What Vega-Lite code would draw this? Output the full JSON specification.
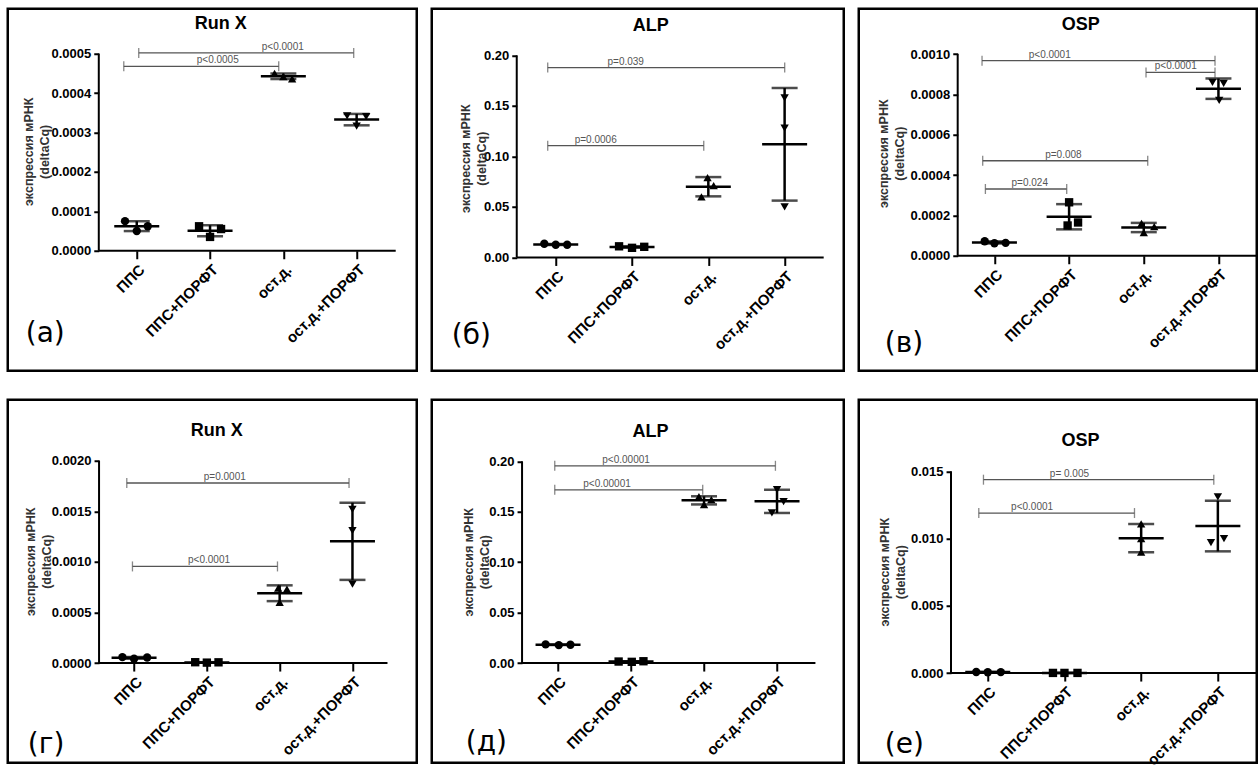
{
  "$schema": "https://vega.github.io/schema/vega-lite/v6.json",
  "usermeta": {"embedOptions": {"actions": false}},
  "background": "white",
  "padding": {"left": 5.75, "top": 6.75, "right": 0, "bottom": 0},
  "datasets": {
    "pa": [{"g":1,"px":0.84,"v":0.000075},{"g":1,"px":1.0,"v":0.000050},{"g":1,"px":1.15,"v":0.000062},
           {"g":2,"px":1.85,"v":0.000062},{"g":2,"px":2.0,"v":0.000035},{"g":2,"px":2.15,"v":0.000055},
           {"g":3,"px":2.88,"v":0.000450},{"g":3,"px":3.0,"v":0.000442},{"g":3,"px":3.12,"v":0.000436},
           {"g":4,"px":3.87,"v":0.000342},{"g":4,"px":4.13,"v":0.000340},{"g":4,"px":4.0,"v":0.000316}],
    "pb": [{"g":1,"px":0.85,"v":0.0135},{"g":1,"px":1.0,"v":0.0125},{"g":1,"px":1.15,"v":0.0125},
           {"g":2,"px":1.83,"v":0.011},{"g":2,"px":2.0,"v":0.0095},{"g":2,"px":2.16,"v":0.0105},
           {"g":3,"px":2.99,"v":0.079},{"g":3,"px":3.07,"v":0.071},{"g":3,"px":2.91,"v":0.060},
           {"g":4,"px":4.0,"v":0.158},{"g":4,"px":4.0,"v":0.128},{"g":4,"px":4.0,"v":0.050}],
    "pc": [{"g":1,"px":0.87,"v":0.000072},{"g":1,"px":1.0,"v":0.000062},{"g":1,"px":1.15,"v":0.000064},
           {"g":2,"px":2.0,"v":0.000265},{"g":2,"px":2.12,"v":0.000165},{"g":2,"px":1.98,"v":0.000150},
           {"g":3,"px":2.97,"v":0.000160},{"g":3,"px":3.14,"v":0.000145},{"g":3,"px":3.0,"v":0.000115},
           {"g":4,"px":3.92,"v":0.000860},{"g":4,"px":4.07,"v":0.000855},{"g":4,"px":4.01,"v":0.000770}],
    "pd": [{"g":1,"px":0.84,"v":0.000058},{"g":1,"px":1.0,"v":0.000042},{"g":1,"px":1.18,"v":0.000055},
           {"g":2,"px":1.84,"v":0.000008},{"g":2,"px":2.0,"v":0.000004},{"g":2,"px":2.16,"v":0.000007},
           {"g":3,"px":2.98,"v":0.00074},{"g":3,"px":3.1,"v":0.00073},{"g":3,"px":3.0,"v":0.0006},
           {"g":4,"px":4.0,"v":0.00152},{"g":4,"px":4.0,"v":0.00131},{"g":4,"px":4.0,"v":0.00078}],
    "pe": [{"g":1,"px":0.83,"v":0.0185},{"g":1,"px":1.01,"v":0.0178},{"g":1,"px":1.17,"v":0.0182},
           {"g":2,"px":1.83,"v":0.0015},{"g":2,"px":2.01,"v":0.0012},{"g":2,"px":2.17,"v":0.0018},
           {"g":3,"px":2.93,"v":0.165},{"g":3,"px":3.1,"v":0.162},{"g":3,"px":3.0,"v":0.157},
           {"g":4,"px":4.0,"v":0.172},{"g":4,"px":4.09,"v":0.160},{"g":4,"px":3.93,"v":0.149}],
    "pf": [{"g":1,"px":0.85,"v":0.00008},{"g":1,"px":1.0,"v":0.00006},{"g":1,"px":1.17,"v":0.00007},
           {"g":2,"px":1.85,"v":0.00001},{"g":2,"px":2.0,"v":0.00001},{"g":2,"px":2.17,"v":0.00001},
           {"g":3,"px":3.0,"v":0.0111},{"g":3,"px":3.0,"v":0.0100},{"g":3,"px":3.0,"v":0.0090},
           {"g":4,"px":4.0,"v":0.0131},{"g":4,"px":3.91,"v":0.0097},{"g":4,"px":4.08,"v":0.0100}],
    "ba": [{"x1":0.823,"x2":2.937,"y":0.000468,"lx":2.105,"lab":"p<0.0005"},{"x1":1.027,"x2":3.960,"y":0.000502,"lx":2.992,"lab":"p<0.0001"}],
    "bb": [{"x1":0.895,"x2":4.001,"y":0.188,"lx":1.917,"lab":"p=0.039"},{"x1":0.895,"x2":2.940,"y":0.1106,"lx":1.524,"lab":"p=0.0006"}],
    "bc": [{"x1":0.834,"x2":3.954,"y":0.000967,"lx":1.741,"lab":"p<0.0001"},{"x1":3.030,"x2":3.954,"y":0.000909,"lx":3.428,"lab":"p<0.0001"},{"x1":0.843,"x2":3.053,"y":0.000471,"lx":1.924,"lab":"p=0.008"},{"x1":0.879,"x2":1.968,"y":0.000331,"lx":1.473,"lab":"p=0.024"}],
    "bd": [{"x1":0.900,"x2":3.953,"y":0.00178,"lx":2.246,"lab":"p=0.0001"},{"x1":0.978,"x2":2.970,"y":0.000955,"lx":2.030,"lab":"p<0.0001"}],
    "be": [{"x1":0.955,"x2":3.978,"y":0.1956,"lx":1.932,"lab":"p<0.00001"},{"x1":0.955,"x2":2.982,"y":0.1718,"lx":1.671,"lab":"p<0.00001"}],
    "bf": [{"x1":0.944,"x2":3.947,"y":0.01438,"lx":2.065,"lab":"p= 0.005"},{"x1":0.883,"x2":2.913,"y":0.0119,"lx":1.578,"lab":"p<0.0001"}]
  },
  "vconcat": [
    {"hconcat": [
      {"width": 409, "height": 362, "layer": [
        {"data": {"values": [{"x":0.482,"x2":0.482,"y":0,"y2":0.0005},{"x":0.482,"x2":4.533,"y":0,"y2":0}]},
         "mark": {"type":"rule","color":"black","strokeWidth":2},
         "encoding": {
           "x": {"field":"x","type":"quantitative","scale":{"domain":[-0.76,4.82],"nice":false,"zero":false},"axis":{"offset":-120,"values":[1,2,3,4],"labelExpr":"['','ППС','ППС+ПОРФТ','ост.д.','ост.д.+ПОРФТ'][datum.value]","title":null}},
           "x2": {"field":"x2"},
           "y": {"field":"y","type":"quantitative","scale":{"domain":[-0.0003046,0.000614],"nice":false,"zero":false},"axis":{"offset":-91,"values":[0,0.0001,0.0002,0.0003,0.0004,0.0005],"format":".4f","title":null}},
           "y2": {"field":"y2"}}},
        {"data":{"name":"ba"},"mark":{"type":"rule","color":"#555","strokeWidth":1.3},"encoding":{"x":{"field":"x1","type":"quantitative"},"x2":{"field":"x2"},"y":{"field":"y","type":"quantitative"}}},
        {"data":{"name":"ba"},"mark":{"type":"tick","orient":"vertical","color":"#555","thickness":1.3,"size":10},"encoding":{"x":{"field":"x1","type":"quantitative"},"y":{"field":"y","type":"quantitative"}}},
        {"data":{"name":"ba"},"mark":{"type":"tick","orient":"vertical","color":"#555","thickness":1.3,"size":10},"encoding":{"x":{"field":"x2","type":"quantitative"},"y":{"field":"y","type":"quantitative"}}},
        {"data":{"name":"ba"},"mark":{"type":"text","fontSize":10,"color":"#555","baseline":"alphabetic","dy":-3},"encoding":{"x":{"field":"lx","type":"quantitative"},"y":{"field":"y","type":"quantitative"},"text":{"field":"lab"}}},
        {"data":{"name":"pa"},"mark":{"type":"errorbar","extent":"stdev","ticks":{"color":"black"},"rule":{"color":"black"},"size":26,"thickness":2.5,"color":"black"},"encoding":{"x":{"field":"g","type":"quantitative","title":null},"y":{"field":"v","type":"quantitative","title":null}}},
        {"data":{"name":"pa"},"mark":{"type":"tick","orient":"horizontal","size":45,"thickness":2.5,"color":"black"},"encoding":{"x":{"field":"g","type":"quantitative"},"y":{"aggregate":"mean","field":"v","type":"quantitative"}}},
        {"data":{"name":"pa"},"mark":{"type":"point","filled":true,"color":"black","size":70,"opacity":1},"encoding":{"x":{"field":"px","type":"quantitative"},"y":{"field":"v","type":"quantitative"},"shape":{"field":"g","type":"nominal","scale":{"domain":[1,2,3,4],"range":["circle","square","triangle-up","triangle-down"]},"legend":null}}},
        {"data":{"values":[{"x":2.146,"y":0.000576,"t":"Run X"}]},"mark":{"type":"text","fontSize":18,"fontWeight":"bold","color":"black","baseline":"middle"},"encoding":{"x":{"field":"x","type":"quantitative"},"y":{"field":"y","type":"quantitative"},"text":{"field":"t"}}},
        {"data":{"values":[{"x":-0.473,"y":0.000251,"t":"экспрессия мРНК\n(deltaCq)"}]},"mark":{"type":"text","angle":270,"lineBreak":"\n","lineHeight":16,"fontSize":12.5,"fontWeight":"bold","color":"#333","align":"center","baseline":"middle"},"encoding":{"x":{"field":"x","type":"quantitative"},"y":{"field":"y","type":"quantitative"},"text":{"field":"t"}}},
        {"data":{"values":[{"x":-0.514,"y":-0.000211,"t":"(а)"}]},"mark":{"type":"text","font":"DejaVu Sans","fontSize":28,"align":"left","baseline":"middle","color":"black"},"encoding":{"x":{"field":"x","type":"quantitative"},"y":{"field":"y","type":"quantitative"},"text":{"field":"t"}}}
      ]},
      {"width": 412, "height": 362, "layer": [
        {"data": {"values": [{"x":0.489,"x2":0.489,"y":0,"y2":0.2},{"x":0.489,"x2":4.512,"y":0,"y2":0}]},
         "mark": {"type":"rule","color":"black","strokeWidth":2},
         "encoding": {
           "x": {"field":"x","type":"quantitative","scale":{"domain":[-0.625,4.775],"nice":false,"zero":false},"axis":{"offset":-113.3,"values":[1,2,3,4],"labelExpr":"['','ППС','ППС+ПОРФТ','ост.д.','ост.д.+ПОРФТ'][datum.value]","title":null}},
           "x2": {"field":"x2"},
           "y": {"field":"y","type":"quantitative","scale":{"domain":[-0.1122,0.2462],"nice":false,"zero":false},"axis":{"offset":-85,"values":[0,0.05,0.1,0.15,0.2],"format":".2f","title":null}},
           "y2": {"field":"y2"}}},
        {"data":{"name":"bb"},"mark":{"type":"rule","color":"#555","strokeWidth":1.3},"encoding":{"x":{"field":"x1","type":"quantitative"},"x2":{"field":"x2"},"y":{"field":"y","type":"quantitative"}}},
        {"data":{"name":"bb"},"mark":{"type":"tick","orient":"vertical","color":"#555","thickness":1.3,"size":10},"encoding":{"x":{"field":"x1","type":"quantitative"},"y":{"field":"y","type":"quantitative"}}},
        {"data":{"name":"bb"},"mark":{"type":"tick","orient":"vertical","color":"#555","thickness":1.3,"size":10},"encoding":{"x":{"field":"x2","type":"quantitative"},"y":{"field":"y","type":"quantitative"}}},
        {"data":{"name":"bb"},"mark":{"type":"text","fontSize":10,"color":"#555","baseline":"alphabetic","dy":-3},"encoding":{"x":{"field":"lx","type":"quantitative"},"y":{"field":"y","type":"quantitative"},"text":{"field":"lab"}}},
        {"data":{"name":"pb"},"mark":{"type":"errorbar","extent":"stdev","ticks":{"color":"black"},"rule":{"color":"black"},"size":26,"thickness":2.5,"color":"black"},"encoding":{"x":{"field":"g","type":"quantitative","title":null},"y":{"field":"v","type":"quantitative","title":null}}},
        {"data":{"name":"pb"},"mark":{"type":"tick","orient":"horizontal","size":45,"thickness":2.5,"color":"black"},"encoding":{"x":{"field":"g","type":"quantitative"},"y":{"aggregate":"mean","field":"v","type":"quantitative"}}},
        {"data":{"name":"pb"},"mark":{"type":"point","filled":true,"color":"black","size":70,"opacity":1},"encoding":{"x":{"field":"px","type":"quantitative"},"y":{"field":"v","type":"quantitative"},"shape":{"field":"g","type":"nominal","scale":{"domain":[1,2,3,4],"range":["circle","square","triangle-up","triangle-down"]},"legend":null}}},
        {"data":{"values":[{"x":2.245,"y":0.2294,"t":"ALP"}]},"mark":{"type":"text","fontSize":18,"fontWeight":"bold","color":"black","baseline":"middle"},"encoding":{"x":{"field":"x","type":"quantitative"},"y":{"field":"y","type":"quantitative"},"text":{"field":"t"}}},
        {"data":{"values":[{"x":-0.173,"y":0.0977,"t":"экспрессия мРНК\n(deltaCq)"}]},"mark":{"type":"text","angle":270,"lineBreak":"\n","lineHeight":16,"fontSize":12.5,"fontWeight":"bold","color":"#333","align":"center","baseline":"middle"},"encoding":{"x":{"field":"x","type":"quantitative"},"y":{"field":"y","type":"quantitative"},"text":{"field":"t"}}},
        {"data":{"values":[{"x":-0.363,"y":-0.0775,"t":"(б)"}]},"mark":{"type":"text","font":"DejaVu Sans","fontSize":28,"align":"left","baseline":"middle","color":"black"},"encoding":{"x":{"field":"x","type":"quantitative"},"y":{"field":"y","type":"quantitative"},"text":{"field":"t"}}}
      ]},
      {"width": 398, "height": 362, "layer": [
        {"data": {"values": [{"x":0.508,"x2":0.508,"y":0,"y2":0.001},{"x":0.508,"x2":4.513,"y":0,"y2":0}]},
         "mark": {"type":"rule","color":"black","strokeWidth":2},
         "encoding": {
           "x": {"field":"x","type":"quantitative","scale":{"domain":[-0.817,4.513],"nice":false,"zero":false},"axis":{"offset":-115,"values":[1,2,3,4],"labelExpr":"['','ППС','ППС+ПОРФТ','ост.д.','ост.д.+ПОРФТ'][datum.value]","title":null}},
           "x2": {"field":"x2"},
           "y": {"field":"y","type":"quantitative","scale":{"domain":[-0.00057015,0.0012246],"nice":false,"zero":false},"axis":{"offset":-99,"values":[0,0.0002,0.0004,0.0006,0.0008,0.001],"format":".4f","title":null}},
           "y2": {"field":"y2"}}},
        {"data":{"name":"bc"},"mark":{"type":"rule","color":"#555","strokeWidth":1.3},"encoding":{"x":{"field":"x1","type":"quantitative"},"x2":{"field":"x2"},"y":{"field":"y","type":"quantitative"}}},
        {"data":{"name":"bc"},"mark":{"type":"tick","orient":"vertical","color":"#555","thickness":1.3,"size":10},"encoding":{"x":{"field":"x1","type":"quantitative"},"y":{"field":"y","type":"quantitative"}}},
        {"data":{"name":"bc"},"mark":{"type":"tick","orient":"vertical","color":"#555","thickness":1.3,"size":10},"encoding":{"x":{"field":"x2","type":"quantitative"},"y":{"field":"y","type":"quantitative"}}},
        {"data":{"name":"bc"},"mark":{"type":"text","fontSize":10,"color":"#555","baseline":"alphabetic","dy":-3},"encoding":{"x":{"field":"lx","type":"quantitative"},"y":{"field":"y","type":"quantitative"},"text":{"field":"lab"}}},
        {"data":{"name":"pc"},"mark":{"type":"errorbar","extent":"stdev","ticks":{"color":"black"},"rule":{"color":"black"},"size":26,"thickness":2.5,"color":"black"},"encoding":{"x":{"field":"g","type":"quantitative","title":null},"y":{"field":"v","type":"quantitative","title":null}}},
        {"data":{"name":"pc"},"mark":{"type":"tick","orient":"horizontal","size":45,"thickness":2.5,"color":"black"},"encoding":{"x":{"field":"g","type":"quantitative"},"y":{"aggregate":"mean","field":"v","type":"quantitative"}}},
        {"data":{"name":"pc"},"mark":{"type":"point","filled":true,"color":"black","size":70,"opacity":1},"encoding":{"x":{"field":"px","type":"quantitative"},"y":{"field":"v","type":"quantitative"},"shape":{"field":"g","type":"nominal","scale":{"domain":[1,2,3,4],"range":["circle","square","triangle-up","triangle-down"]},"legend":null}}},
        {"data":{"values":[{"x":2.156,"y":0.001145,"t":"OSP"}]},"mark":{"type":"text","fontSize":18,"fontWeight":"bold","color":"black","baseline":"middle"},"encoding":{"x":{"field":"x","type":"quantitative"},"y":{"field":"y","type":"quantitative"},"text":{"field":"t"}}},
        {"data":{"values":[{"x":-0.476,"y":0.000506,"t":"экспрессия мРНК\n(deltaCq)"}]},"mark":{"type":"text","angle":270,"lineBreak":"\n","lineHeight":16,"fontSize":12.5,"fontWeight":"bold","color":"#333","align":"center","baseline":"middle"},"encoding":{"x":{"field":"x","type":"quantitative"},"y":{"field":"y","type":"quantitative"},"text":{"field":"t"}}},
        {"data":{"values":[{"x":-0.469,"y":-0.000436,"t":"(в)"}]},"mark":{"type":"text","font":"DejaVu Sans","fontSize":28,"align":"left","baseline":"middle","color":"black"},"encoding":{"x":{"field":"x","type":"quantitative"},"y":{"field":"y","type":"quantitative"},"text":{"field":"t"}}}
      ]}
    ], "spacing": 11},
    {"hconcat": [
      {"width": 409, "height": 363, "layer": [
        {"data": {"values": [{"x":0.519,"x2":0.519,"y":0,"y2":0.002},{"x":0.519,"x2":4.481,"y":0,"y2":0}]},
         "mark": {"type":"rule","color":"black","strokeWidth":2},
         "encoding": {
           "x": {"field":"x","type":"quantitative","scale":{"domain":[-0.735,4.883],"nice":false,"zero":false},"axis":{"offset":-99.7,"values":[1,2,3,4],"labelExpr":"['','ППС','ППС+ПОРФТ','ост.д.','ост.д.+ПОРФТ'][datum.value]","title":null}},
           "x2": {"field":"x2"},
           "y": {"field":"y","type":"quantitative","scale":{"domain":[-0.000986,0.002603],"nice":false,"zero":false},"axis":{"offset":-91.3,"values":[0,0.0005,0.001,0.0015,0.002],"format":".4f","title":null}},
           "y2": {"field":"y2"}}},
        {"data":{"name":"bd"},"mark":{"type":"rule","color":"#555","strokeWidth":1.3},"encoding":{"x":{"field":"x1","type":"quantitative"},"x2":{"field":"x2"},"y":{"field":"y","type":"quantitative"}}},
        {"data":{"name":"bd"},"mark":{"type":"tick","orient":"vertical","color":"#555","thickness":1.3,"size":10},"encoding":{"x":{"field":"x1","type":"quantitative"},"y":{"field":"y","type":"quantitative"}}},
        {"data":{"name":"bd"},"mark":{"type":"tick","orient":"vertical","color":"#555","thickness":1.3,"size":10},"encoding":{"x":{"field":"x2","type":"quantitative"},"y":{"field":"y","type":"quantitative"}}},
        {"data":{"name":"bd"},"mark":{"type":"text","fontSize":10,"color":"#555","baseline":"alphabetic","dy":-3},"encoding":{"x":{"field":"lx","type":"quantitative"},"y":{"field":"y","type":"quantitative"},"text":{"field":"lab"}}},
        {"data":{"name":"pd"},"mark":{"type":"errorbar","extent":"stdev","ticks":{"color":"black"},"rule":{"color":"black"},"size":26,"thickness":2.5,"color":"black"},"encoding":{"x":{"field":"g","type":"quantitative","title":null},"y":{"field":"v","type":"quantitative","title":null}}},
        {"data":{"name":"pd"},"mark":{"type":"tick","orient":"horizontal","size":45,"thickness":2.5,"color":"black"},"encoding":{"x":{"field":"g","type":"quantitative"},"y":{"aggregate":"mean","field":"v","type":"quantitative"}}},
        {"data":{"name":"pd"},"mark":{"type":"point","filled":true,"color":"black","size":70,"opacity":1},"encoding":{"x":{"field":"px","type":"quantitative"},"y":{"field":"v","type":"quantitative"},"shape":{"field":"g","type":"nominal","scale":{"domain":[1,2,3,4],"range":["circle","square","triangle-up","triangle-down"]},"legend":null}}},
        {"data":{"values":[{"x":2.136,"y":0.00229,"t":"Run X"}]},"mark":{"type":"text","fontSize":18,"fontWeight":"bold","color":"black","baseline":"middle"},"encoding":{"x":{"field":"x","type":"quantitative"},"y":{"field":"y","type":"quantitative"},"text":{"field":"t"}}},
        {"data":{"values":[{"x":-0.419,"y":0.001001,"t":"экспрессия мРНК\n(deltaCq)"}]},"mark":{"type":"text","angle":270,"lineBreak":"\n","lineHeight":16,"fontSize":12.5,"fontWeight":"bold","color":"#333","align":"center","baseline":"middle"},"encoding":{"x":{"field":"x","type":"quantitative"},"y":{"field":"y","type":"quantitative"},"text":{"field":"t"}}},
        {"data":{"values":[{"x":-0.46,"y":-0.000808,"t":"(г)"}]},"mark":{"type":"text","font":"DejaVu Sans","fontSize":28,"align":"left","baseline":"middle","color":"black"},"encoding":{"x":{"field":"x","type":"quantitative"},"y":{"field":"y","type":"quantitative"},"text":{"field":"t"}}}
      ]},
      {"width": 412, "height": 363, "layer": [
        {"data": {"values": [{"x":0.507,"x2":0.507,"y":0,"y2":0.2},{"x":0.507,"x2":4.526,"y":0,"y2":0}]},
         "mark": {"type":"rule","color":"black","strokeWidth":2},
         "encoding": {
           "x": {"field":"x","type":"quantitative","scale":{"domain":[-0.73,4.914],"nice":false,"zero":false},"axis":{"offset":-99.7,"values":[1,2,3,4],"labelExpr":"['','ППС','ППС+ПОРФТ','ост.д.','ост.д.+ПОРФТ'][datum.value]","title":null}},
           "x2": {"field":"x2"},
           "y": {"field":"y","type":"quantitative","scale":{"domain":[-0.09886,0.2611],"nice":false,"zero":false},"axis":{"offset":-90.3,"values":[0,0.05,0.1,0.15,0.2],"format":".2f","title":null}},
           "y2": {"field":"y2"}}},
        {"data":{"name":"be"},"mark":{"type":"rule","color":"#555","strokeWidth":1.3},"encoding":{"x":{"field":"x1","type":"quantitative"},"x2":{"field":"x2"},"y":{"field":"y","type":"quantitative"}}},
        {"data":{"name":"be"},"mark":{"type":"tick","orient":"vertical","color":"#555","thickness":1.3,"size":10},"encoding":{"x":{"field":"x1","type":"quantitative"},"y":{"field":"y","type":"quantitative"}}},
        {"data":{"name":"be"},"mark":{"type":"tick","orient":"vertical","color":"#555","thickness":1.3,"size":10},"encoding":{"x":{"field":"x2","type":"quantitative"},"y":{"field":"y","type":"quantitative"}}},
        {"data":{"name":"be"},"mark":{"type":"text","fontSize":10,"color":"#555","baseline":"alphabetic","dy":-3},"encoding":{"x":{"field":"lx","type":"quantitative"},"y":{"field":"y","type":"quantitative"},"text":{"field":"lab"}}},
        {"data":{"name":"pe"},"mark":{"type":"errorbar","extent":"stdev","ticks":{"color":"black"},"rule":{"color":"black"},"size":26,"thickness":2.5,"color":"black"},"encoding":{"x":{"field":"g","type":"quantitative","title":null},"y":{"field":"v","type":"quantitative","title":null}}},
        {"data":{"name":"pe"},"mark":{"type":"tick","orient":"horizontal","size":45,"thickness":2.5,"color":"black"},"encoding":{"x":{"field":"g","type":"quantitative"},"y":{"aggregate":"mean","field":"v","type":"quantitative"}}},
        {"data":{"name":"pe"},"mark":{"type":"point","filled":true,"color":"black","size":70,"opacity":1},"encoding":{"x":{"field":"px","type":"quantitative"},"y":{"field":"v","type":"quantitative"},"shape":{"field":"g","type":"nominal","scale":{"domain":[1,2,3,4],"range":["circle","square","triangle-up","triangle-down"]},"legend":null}}},
        {"data":{"values":[{"x":2.266,"y":0.2296,"t":"ALP"}]},"mark":{"type":"text","fontSize":18,"fontWeight":"bold","color":"black","baseline":"middle"},"encoding":{"x":{"field":"x","type":"quantitative"},"y":{"field":"y","type":"quantitative"},"text":{"field":"t"}}},
        {"data":{"values":[{"x":-0.223,"y":0.09995,"t":"экспрессия мРНК\n(deltaCq)"}]},"mark":{"type":"text","angle":270,"lineBreak":"\n","lineHeight":16,"fontSize":12.5,"fontWeight":"bold","color":"#333","align":"center","baseline":"middle"},"encoding":{"x":{"field":"x","type":"quantitative"},"y":{"field":"y","type":"quantitative"},"text":{"field":"t"}}},
        {"data":{"values":[{"x":-0.264,"y":-0.0793,"t":"(д)"}]},"mark":{"type":"text","font":"DejaVu Sans","fontSize":28,"align":"left","baseline":"middle","color":"black"},"encoding":{"x":{"field":"x","type":"quantitative"},"y":{"field":"y","type":"quantitative"},"text":{"field":"t"}}}
      ]},
      {"width": 398, "height": 363, "layer": [
        {"data": {"values": [{"x":0.521,"x2":0.521,"y":0,"y2":0.015},{"x":0.521,"x2":4.507,"y":0,"y2":0}]},
         "mark": {"type":"rule","color":"black","strokeWidth":2},
         "encoding": {
           "x": {"field":"x","type":"quantitative","scale":{"domain":[-0.682,4.507],"nice":false,"zero":false},"axis":{"offset":-89.7,"values":[1,2,3,4],"labelExpr":"['','ППС','ППС+ПОРФТ','ост.д.','ост.д.+ПОРФТ'][datum.value]","title":null}},
           "x2": {"field":"x2"},
           "y": {"field":"y","type":"quantitative","scale":{"domain":[-0.006671,0.020325],"nice":false,"zero":false},"axis":{"offset":-92.3,"values":[0,0.005,0.01,0.015],"format":".3f","title":null}},
           "y2": {"field":"y2"}}},
        {"data":{"name":"bf"},"mark":{"type":"rule","color":"#555","strokeWidth":1.3},"encoding":{"x":{"field":"x1","type":"quantitative"},"x2":{"field":"x2"},"y":{"field":"y","type":"quantitative"}}},
        {"data":{"name":"bf"},"mark":{"type":"tick","orient":"vertical","color":"#555","thickness":1.3,"size":10},"encoding":{"x":{"field":"x1","type":"quantitative"},"y":{"field":"y","type":"quantitative"}}},
        {"data":{"name":"bf"},"mark":{"type":"tick","orient":"vertical","color":"#555","thickness":1.3,"size":10},"encoding":{"x":{"field":"x2","type":"quantitative"},"y":{"field":"y","type":"quantitative"}}},
        {"data":{"name":"bf"},"mark":{"type":"text","fontSize":10,"color":"#555","baseline":"alphabetic","dy":-3},"encoding":{"x":{"field":"lx","type":"quantitative"},"y":{"field":"y","type":"quantitative"},"text":{"field":"lab"}}},
        {"data":{"name":"pf"},"mark":{"type":"errorbar","extent":"stdev","ticks":{"color":"black"},"rule":{"color":"black"},"size":26,"thickness":2.5,"color":"black"},"encoding":{"x":{"field":"g","type":"quantitative","title":null},"y":{"field":"v","type":"quantitative","title":null}}},
        {"data":{"name":"pf"},"mark":{"type":"tick","orient":"horizontal","size":45,"thickness":2.5,"color":"black"},"encoding":{"x":{"field":"g","type":"quantitative"},"y":{"aggregate":"mean","field":"v","type":"quantitative"}}},
        {"data":{"name":"pf"},"mark":{"type":"point","filled":true,"color":"black","size":70,"opacity":1},"encoding":{"x":{"field":"px","type":"quantitative"},"y":{"field":"v","type":"quantitative"},"shape":{"field":"g","type":"nominal","scale":{"domain":[1,2,3,4],"range":["circle","square","triangle-up","triangle-down"]},"legend":null}}},
        {"data":{"values":[{"x":2.209,"y":0.017275,"t":"OSP"}]},"mark":{"type":"text","fontSize":18,"fontWeight":"bold","color":"black","baseline":"middle"},"encoding":{"x":{"field":"x","type":"quantitative"},"y":{"field":"y","type":"quantitative"},"text":{"field":"t"}}},
        {"data":{"values":[{"x":-0.336,"y":0.0075,"t":"экспрессия мРНК\n(deltaCq)"}]},"mark":{"type":"text","angle":270,"lineBreak":"\n","lineHeight":16,"fontSize":12.5,"fontWeight":"bold","color":"#333","align":"center","baseline":"middle"},"encoding":{"x":{"field":"x","type":"quantitative"},"y":{"field":"y","type":"quantitative"},"text":{"field":"t"}}},
        {"data":{"values":[{"x":-0.343,"y":-0.005332,"t":"(е)"}]},"mark":{"type":"text","font":"DejaVu Sans","fontSize":28,"align":"left","baseline":"middle","color":"black"},"encoding":{"x":{"field":"x","type":"quantitative"},"y":{"field":"y","type":"quantitative"},"text":{"field":"t"}}}
      ]}
    ], "spacing": 11}
  ],
  "spacing": 25,
  "config": {
    "font": "Liberation Sans",
    "view": {"stroke": "black", "strokeWidth": 2.5},
    "mark": {"color": "black"},
    "axis": {"grid": false, "domain": false, "tickColor": "black", "tickWidth": 2, "labelColor": "black", "labelFontWeight": "bold", "labelFontSize": 13, "labelFlush": false, "labelOverlap": false, "labelBound": false},
    "axisX": {"tickSize": 8, "labelAngle": -45, "labelAlign": "right", "labelBaseline": "top", "labelPadding": 3, "labelFontSize": 15},
    "axisY": {"tickSize": 5, "labelPadding": 3}
  }
}
